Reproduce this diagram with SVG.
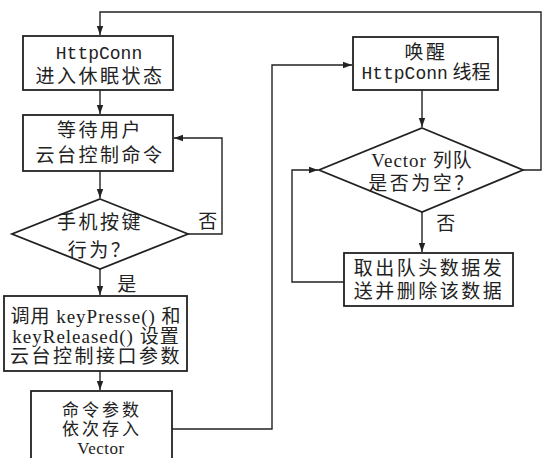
<svg xmlns="http://www.w3.org/2000/svg" width="542" height="458" viewBox="0 0 542 458">
<style>
.b{fill:#fff;stroke:#222;stroke-width:1.8}
.c{fill:none;stroke:#222;stroke-width:1.4}
.t{font-family:"Liberation Serif","Noto Sans CJK SC",serif;font-size:19px;fill:#222;text-anchor:middle;letter-spacing:2.5px}
.s{font-size:17px;letter-spacing:3px}
.m{font-family:"Liberation Mono","Noto Sans CJK SC",monospace;font-size:18px;fill:#222;text-anchor:middle}
</style>
<defs>
<marker id="a" markerWidth="10" markerHeight="8" refX="9" refY="4" orient="auto" markerUnits="userSpaceOnUse">
<path d="M0,0.8 L9,4 L0,7.2 Z" fill="#222"/>
</marker>
</defs>
<rect width="542" height="458" fill="#fff"/>
<g id="connectors">
<path class="c" d="M523,170 H541 V12 H100 V35" marker-end="url(#a)"/>
<path class="c" d="M100,90 V114" marker-end="url(#a)"/>
<path class="c" d="M100,171 V198" marker-end="url(#a)"/>
<path class="c" d="M188,234 H222 V138 H174" marker-end="url(#a)"/>
<path class="c" d="M100,269 V295" marker-end="url(#a)"/>
<path class="c" d="M100,371 V390" marker-end="url(#a)"/>
<path class="c" d="M172,429 H272 V65 H352" marker-end="url(#a)"/>
<path class="c" d="M422,90 V127" marker-end="url(#a)"/>
<path class="c" d="M422,212 V252" marker-end="url(#a)"/>
<path class="c" d="M344,282 H292 V170 H318" marker-end="url(#a)"/>
<text class="t" x="209" y="228">否</text>
<text class="t" x="128" y="291">是</text>
<text class="t" x="447" y="230">否</text>
</g>
<g id="n1">
<rect class="b" x="23" y="36" width="150" height="54"/>
<text class="m" x="99" y="59">HttpConn</text>
<text class="t" x="100" y="83">进入休眠状态</text>
</g>
<g id="n2">
<rect class="b" x="23" y="115" width="150" height="56"/>
<text class="t" x="100" y="137">等待用户</text>
<text class="t" x="100" y="162">云台控制命令</text>
</g>
<g id="n3">
<polygon class="b" points="100,199 188,234 100,269 12,234"/>
<text class="t" x="100" y="229">手机按键</text>
<text class="t" x="100" y="257">行为？</text>
</g>
<g id="n4">
<rect class="b" x="4" y="296" width="183" height="75"/>
<text class="t" x="96" y="323" style="letter-spacing:1px">调用 keyPresse() 和</text>
<text class="t" x="96" y="343" style="letter-spacing:1px">keyReleased() 设置</text>
<text class="t" x="96" y="363">云台控制接口参数</text>
</g>
<g id="n5">
<rect class="b" x="31" y="391" width="141" height="80"/>
<text class="t s" x="102" y="416">命令参数</text>
<text class="t s" x="102" y="435">依次存入</text>
<text class="t s" x="101" y="454" style="letter-spacing:0.5px">Vector</text>
</g>
<g id="n6">
<rect class="b" x="353" y="37" width="145" height="53"/>
<text class="t" x="426" y="59">唤醒</text>
<text class="t" x="426" y="79" style="letter-spacing:0"><tspan font-family="Liberation Mono" font-size="18">HttpConn</tspan> 线程</text>
</g>
<g id="n7">
<polygon class="b" points="422,128 523,170 422,212 319,170"/>
<text class="t" x="422" y="167" style="letter-spacing:1px">Vector 列队</text>
<text class="t" x="422" y="190">是否为空？</text>
</g>
<g id="n8">
<rect class="b" x="344" y="253" width="169" height="53"/>
<text class="t" x="429" y="275">取出队头数据发</text>
<text class="t" x="429" y="298">送并删除该数据</text>
</g>
</svg>
